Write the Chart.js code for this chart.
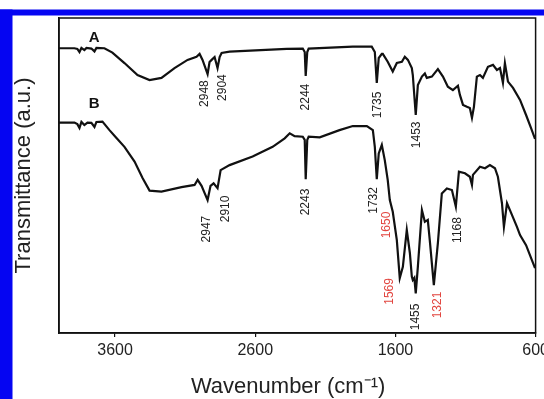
<!DOCTYPE html>
<html>
<head>
<meta charset="utf-8">
<script src="https://cdn.jsdelivr.net/npm/chart.js@4/dist/chart.umd.min.js"></script>
<style>
  html, body { margin: 0; padding: 0; background: #fff; overflow: hidden; }
  canvas { display: block; }
</style>
</head>
<body>
<canvas id="irChart" width="560" height="399"></canvas>
<script>
// wavenumbers (cm-1) and transmittance (a.u.)
const wnA = [4000, 3890, 3869, 3854, 3840, 3819, 3804, 3769, 3747, 3733, 3676, 3619, 3533, 3440, 3354, 3269, 3176, 3083, 3019, 2997, 2976, 2940, 2926, 2911, 2890, 2869, 2854, 2840, 2783, 2376, 2261, 2247, 2240, 2229, 2219, 1904, 1769, 1747, 1733, 1719, 1697, 1690, 1655, 1619, 1590, 1554, 1533, 1511, 1483, 1476, 1455, 1440, 1411, 1390, 1376, 1340, 1297, 1261, 1226, 1190, 1154, 1140, 1118, 1090, 1069, 1054, 1040, 1019, 997, 976, 940, 904, 876, 854, 833, 819, 797, 761, 711, 668, 633, 604];
const tA = [90.4, 90.4, 90.2, 89.2, 90.5, 89.8, 90.5, 90.3, 89.4, 90.5, 90.4, 89.0, 85.7, 81.9, 80.3, 81.0, 84.1, 86.7, 87.7, 88.6, 86.7, 82.2, 86.0, 86.7, 87.6, 84.1, 87.6, 88.9, 89.3, 90.2, 90.3, 89.2, 81.6, 89.2, 90.3, 90.9, 90.9, 89.2, 79.4, 87.3, 88.6, 88.6, 86.1, 83.0, 85.7, 86.1, 87.7, 86.7, 84.1, 81.9, 69.2, 78.7, 81.4, 82.4, 81.0, 81.4, 83.8, 81.4, 78.2, 77.1, 78.5, 75.6, 72.4, 71.8, 71.4, 68.3, 71.8, 81.4, 81.9, 81.0, 84.5, 85.1, 83.5, 84.1, 79.4, 85.7, 79.8, 77.8, 74.0, 69.2, 65.1, 61.6];

const wnB = [4000, 3890, 3869, 3854, 3840, 3819, 3797, 3769, 3747, 3733, 3690, 3640, 3590, 3533, 3461, 3404, 3354, 3269, 3126, 3033, 3011, 2983, 2940, 2919, 2897, 2869, 2847, 2783, 2619, 2476, 2390, 2354, 2319, 2261, 2247, 2240, 2229, 2219, 2140, 1999, 1904, 1804, 1761, 1747, 1733, 1719, 1697, 1676, 1655, 1640, 1619, 1590, 1569, 1547, 1519, 1497, 1483, 1476, 1465, 1455, 1440, 1411, 1390, 1369, 1355, 1326, 1297, 1269, 1233, 1197, 1169, 1147, 1104, 1069, 1054, 1047, 997, 961, 926, 890, 869, 840, 826, 804, 783, 733, 711, 668, 618, 604];
const tB = [66.8, 66.8, 66.3, 65.1, 67.0, 66.0, 66.8, 66.7, 65.4, 67.0, 67.1, 64.4, 61.9, 59.1, 54.4, 49.2, 45.2, 44.9, 46.3, 47.0, 48.6, 46.7, 42.2, 46.7, 47.5, 46.0, 51.7, 53.3, 56.0, 59.1, 61.8, 63.4, 62.5, 62.3, 61.3, 48.8, 61.3, 62.3, 62.1, 64.4, 65.7, 65.7, 64.4, 59.1, 48.8, 57.0, 59.7, 54.9, 48.6, 42.2, 38.5, 29.5, 17.4, 21.0, 32.7, 25.4, 17.9, 16.8, 17.5, 12.6, 21.0, 39.0, 35.3, 35.9, 29.5, 15.2, 28.6, 44.3, 45.9, 45.4, 40.1, 51.2, 50.7, 49.6, 47.0, 50.2, 52.8, 52.3, 53.3, 52.3, 49.6, 41.2, 33.7, 41.2, 39.0, 33.7, 31.1, 27.9, 22.2, 20.6];

const xTicks = [3600, 2600, 1600, 600];

// trace names and where they sit
const traceNames = ['A', 'B'];
const traceNameWn = [3750, 3750];
const traceNameT = [93.8, 72.7];

// peak annotations
const peakText = ['2948', '2904', '2244', '1735', '1453', '2947', '2910', '2243', '1732', '1650', '1569', '1455', '1321', '1168'];
const peakWn = [2958, 2833, 2240, 1729, 1451, 2947, 2811, 2240, 1754, 1665, 1644, 1454, 1301, 1158];
const peakT = [76.0, 77.9, 74.9, 72.4, 62.9, 33.0, 39.4, 41.6, 42.1, 34.3, 13.2, 5.1, 8.9, 32.7];
const peakRed = [false, false, false, false, false, false, false, false, false, true, true, false, true, false];

Chart.defaults.font.family = 'Arial, "Liberation Sans", sans-serif';
Chart.defaults.color = '#222';

const toPoints = (xs, ys) => xs.map((x, i) => ({ x: x, y: ys[i] }));

const blueFrame = {
  id: 'blueFrame',
  beforeDraw(chart) {
    const ctx = chart.ctx;
    ctx.save();
    ctx.fillStyle = '#0505f2';
    ctx.fillRect(0, 9.5, chart.width, 6);
    ctx.fillRect(0, 9.5, 12.5, chart.height);
    ctx.restore();
  }
};

const labelsPlugin = {
  id: 'peakLabels',
  afterDatasetsDraw(chart) {
    const { ctx, scales: { x, y }, chartArea } = chart;
    ctx.save();
    ctx.strokeStyle = '#111';
    ctx.lineWidth = 1.5;
    ctx.strokeRect(chartArea.left, chartArea.top, chartArea.right - chartArea.left, chartArea.bottom - chartArea.top);

    ctx.textAlign = 'center';
    ctx.textBaseline = 'middle';
    ctx.font = 'bold 15px Arial, "Liberation Sans", sans-serif';
    ctx.fillStyle = '#111';
    traceNames.forEach((name, i) => {
      ctx.fillText(name, x.getPixelForValue(traceNameWn[i]), y.getPixelForValue(traceNameT[i]));
    });

    ctx.font = '12px Arial, "Liberation Sans", sans-serif';
    peakText.forEach((txt, i) => {
      ctx.save();
      ctx.translate(x.getPixelForValue(peakWn[i]), y.getPixelForValue(peakT[i]));
      ctx.rotate(-Math.PI / 2);
      ctx.fillStyle = peakRed[i] ? '#e2453f' : '#222';
      ctx.fillText(txt, 0, 0);
      ctx.restore();
    });
    ctx.restore();
  }
};

new Chart(document.getElementById('irChart'), {
  type: 'line',
  data: {
    datasets: [
      { label: 'A', data: toPoints(wnA, tA), borderColor: '#111', borderWidth: 2.2, pointRadius: 0, tension: 0 },
      { label: 'B', data: toPoints(wnB, tB), borderColor: '#111', borderWidth: 2.2, pointRadius: 0, tension: 0 }
    ]
  },
  options: {
    responsive: false,
    animation: false,
    events: [],
    layout: { padding: { left: 0, top: 18, right: 24.4, bottom: 0 } },
    plugins: { legend: { display: false }, tooltip: { enabled: false } },
    scales: {
      x: {
        type: 'linear',
        reverse: true,
        min: 600,
        max: 4000,
        afterBuildTicks: axis => { axis.ticks = xTicks.map(v => ({ value: v })); },
        grid: { display: true, drawOnChartArea: false, drawTicks: true, tickLength: 4, color: '#111', lineWidth: 1.2 },
        border: { display: true, color: '#111', width: 1.5 },
        ticks: { font: { size: 16 }, color: '#222', padding: 4.4, maxRotation: 0, autoSkip: false, callback: v => String(v) },
        title: { display: true, text: 'Wavenumber (cm\u207B\u00B9)\u00A0\u00A0\u00A0', font: { size: 22, lineHeight: 1.1 }, color: '#222', padding: { top: 9.8, bottom: 0 } }
      },
      y: {
        min: 0,
        max: 100,
        grid: { display: false, drawTicks: false },
        border: { display: true, color: '#111', width: 1.5 },
        ticks: { display: false },
        title: { display: true, text: 'Transmittance (a.u.)', font: { size: 22 }, color: '#222', padding: { top: 11.2, bottom: 21.4 } }
      }
    }
  },
  plugins: [blueFrame, labelsPlugin]
});
</script>
</body>
</html>
